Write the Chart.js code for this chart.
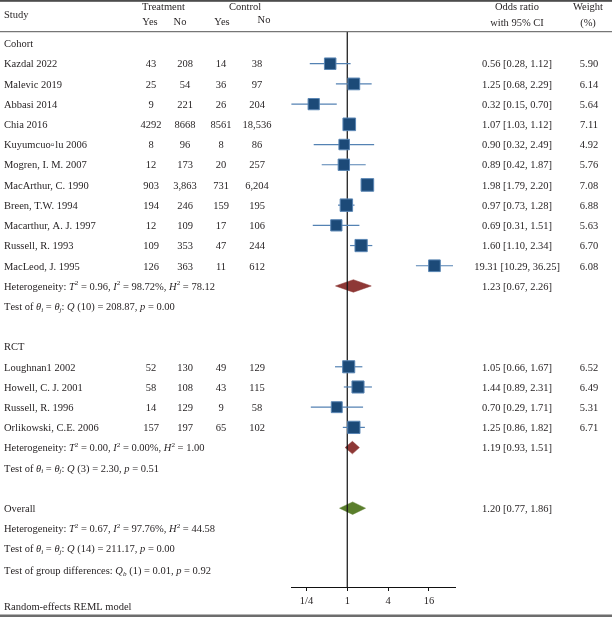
<!DOCTYPE html>
<html>
<head>
<meta charset="utf-8">
<script src="https://cdn.jsdelivr.net/npm/chart.js@4.4.0/dist/chart.umd.min.js"></script>
<style>
  html, body { margin: 0; padding: 0; background: #fff; }
  #wrap { width: 612px; height: 619px; }
</style>
</head>
<body>
<div id="wrap"><canvas id="forest" width="612" height="619"></canvas></div>
<script>
// --- study data ---
const studyNames = [
  "Kazdal 2022", "Malevic 2019", "Abbasi 2014", "Chia 2016", "Kuyumcuo\u25ab\u200alu 2006",
  "Mogren, I. M. 2007", "MacArthur, C. 1990", "Breen, T.W. 1994", "Macarthur, A. J. 1997",
  "Russell, R. 1993", "MacLeod, J. 1995",
  "Loughnan1 2002", "Howell, C. J. 2001", "Russell, R. 1996", "Orlikowski, C.E. 2006"
];
const studyGroup = [
  "Cohort", "Cohort", "Cohort", "Cohort", "Cohort", "Cohort", "Cohort", "Cohort", "Cohort", "Cohort", "Cohort",
  "RCT", "RCT", "RCT", "RCT"
];
const treatYes = ["43", "25", "9", "4292", "8", "12", "903", "194", "12", "109", "126", "52", "58", "14", "157"];
const treatNo  = ["208", "54", "221", "8668", "96", "173", "3,863", "246", "109", "353", "363", "130", "108", "129", "197"];
const ctrlYes  = ["14", "36", "26", "8561", "8", "20", "731", "159", "17", "47", "11", "49", "43", "9", "65"];
const ctrlNo   = ["38", "97", "204", "18,536", "86", "257", "6,204", "195", "106", "244", "612", "129", "115", "58", "102"];
const oddsRatio = [0.56, 1.25, 0.32, 1.07, 0.90, 0.89, 1.98, 0.97, 0.69, 1.60, 19.31, 1.05, 1.44, 0.70, 1.25];
const ciLow     = [0.28, 0.68, 0.15, 1.03, 0.32, 0.42, 1.79, 0.73, 0.31, 1.10, 10.29, 0.66, 0.89, 0.29, 0.86];
const ciHigh    = [1.12, 2.29, 0.70, 1.12, 2.49, 1.87, 2.20, 1.28, 1.51, 2.34, 36.25, 1.67, 2.31, 1.71, 1.82];
const weights   = [5.90, 6.14, 5.64, 7.11, 4.92, 5.76, 7.08, 6.88, 5.63, 6.70, 6.08, 6.52, 6.49, 5.31, 6.71];

// --- subgroup / overall summaries ---
const groups = ["Cohort", "RCT"];
const summaryOR   = { Cohort: 1.23, RCT: 1.19, Overall: 1.20 };
const summaryLow  = { Cohort: 0.67, RCT: 0.93, Overall: 0.77 };
const summaryHigh = { Cohort: 2.26, RCT: 1.51, Overall: 1.86 };
const hetText = {
  Cohort:  "Heterogeneity: *T*^2 = 0.96, *I*^2 = 98.72%, *H*^2 = 78.12",
  RCT:     "Heterogeneity: *T*^2 = 0.00, *I*^2 = 0.00%, *H*^2 = 1.00",
  Overall: "Heterogeneity: *T*^2 = 0.67, *I*^2 = 97.76%, *H*^2 = 44.58"
};
const testText = {
  Cohort:  "Test of *\u03b8_i* = *\u03b8_j*: *Q* (10) = 208.87, *p* = 0.00",
  RCT:     "Test of *\u03b8_i* = *\u03b8_j*: *Q* (3) = 2.30, *p* = 0.51",
  Overall: "Test of *\u03b8_i* = *\u03b8_j*: *Q* (14) = 211.17, *p* = 0.00"
};
const groupDiffText = "Test of group differences: *Q_b* (1) = 0.01, *p* = 0.92";
const modelNote = "Random-effects REML model";

// --- x axis ticks ---
const xTicks = [0.25, 1, 4, 16];
const xTickLabels = ["1/4", "1", "4", "16"];

// --- layout of rows (row index k, one step per line of the table) ---
const rows = [];
let k = 0;
groups.forEach(g => {
  rows.push({ k: k++, type: "head", text: g });
  studyNames.forEach((n, i) => {
    if (studyGroup[i] === g) rows.push({ k: k++, type: "study", i: i });
  });
  rows.push({ k: k++, type: "het", g: g });
  rows.push({ k: k++, type: "test", g: g });
  k++; // blank line
});
rows.push({ k: k++, type: "overall", g: "Overall" });
rows.push({ k: k++, type: "het", g: "Overall", noDiamond: true });
rows.push({ k: k++, type: "test", g: "Overall" });
rows.push({ k: k++, type: "groupdiff" });

const Y_MIN = -0.57, Y_MAX = 26.9;
const FS = 10.5;
const FONT = '"Liberation Serif", "Times New Roman", serif';
const TEXT = "#231f20";

// --- datasets ---
const studyRows = rows.filter(r => r.type === "study");
const datasets = [];

datasets.push({
  type: "scatter",
  label: "studies",
  data: studyRows.map(r => ({ x: oddsRatio[r.i], y: r.k })),
  pointStyle: "rect",
  pointRadius: studyRows.map(r => 3.35 * Math.sqrt(weights[r.i])),
  backgroundColor: "#1c4a78",
  borderColor: "#5a86b4",
  borderWidth: 1,
  order: 0
});

studyRows.forEach(r => {
  datasets.push({
    type: "line",
    data: [{ x: ciLow[r.i], y: r.k }, { x: ciHigh[r.i], y: r.k }],
    borderColor: "#5482b3",
    borderWidth: 1.2,
    pointRadius: 0,
    order: 1
  });
});

// line of no effect
datasets.push({
  type: "line",
  data: [{ x: 1, y: Y_MIN }, { x: 1, y: Y_MAX }],
  borderColor: "#111",
  borderWidth: 1.2,
  pointRadius: 0,
  clip: false,
  order: 2
});

// summary diamonds
const diamondRows = rows.filter(r => (r.type === "het" && !r.noDiamond) || r.type === "overall");
diamondRows.forEach(r => {
  const g = r.g, h = 0.31;
  const col = g === "Overall" ? "#5a7e2c" : "#8e3836";
  datasets.push({
    type: "line",
    data: [
      { x: summaryLow[g], y: r.k }, { x: summaryOR[g], y: r.k - h },
      { x: summaryHigh[g], y: r.k }, { x: summaryOR[g], y: r.k + h },
      { x: summaryLow[g], y: r.k }
    ],
    borderColor: col,
    backgroundColor: col,
    borderWidth: 0.5,
    fill: "shape",
    pointRadius: 0,
    tension: 0,
    order: 3
  });
});

// --- rich text helper: *italic*, ^x superscript, _x subscript ---
function drawRich(ctx, str, x, y) {
  let italic = false;
  for (let i = 0; i < str.length; i++) {
    let c = str[i];
    if (c === "*") { italic = !italic; continue; }
    let size = FS, dy = 0;
    if (c === "^" || c === "_") {
      dy = c === "^" ? -3.5 : 2.5;
      c = str[++i];
      size = FS * 0.68;
    }
    ctx.font = (italic ? "italic " : "") + size + "px " + FONT;
    ctx.fillText(c, x, y + dy);
    x += ctx.measureText(c).width;
  }
}

function txt(ctx, s, x, y, align) {
  ctx.textAlign = align || "left";
  ctx.fillText(s, x, y);
}

const tablePlugin = {
  id: "table",
  afterDraw(chart) {
    const ctx = chart.ctx;
    const ys = chart.scales.y;
    ctx.save();
    // rules
    ctx.fillStyle = "#4d4d4d";
    ctx.fillRect(0, 0, 612, 1.8);
    ctx.fillStyle = "#555";
    ctx.fillRect(0, 31.2, 612, 1);
    ctx.fillStyle = "#6d6d6d";
    ctx.fillRect(0, 614.5, 612, 2.5);

    ctx.fillStyle = TEXT;
    ctx.textBaseline = "middle";
    ctx.font = FS + "px " + FONT;
    // header
    txt(ctx, "Study", 4, 15);
    txt(ctx, "Treatment", 163.5, 7.5, "center");
    txt(ctx, "Control", 245, 7.5, "center");
    txt(ctx, "Yes", 150, 22.5, "center");
    txt(ctx, "No", 180, 22.5, "center");
    txt(ctx, "Yes", 222, 22.5, "center");
    txt(ctx, "No", 264, 20.5, "center");
    txt(ctx, "Odds ratio", 517, 7.5, "center");
    txt(ctx, "with 95% CI", 517, 23, "center");
    txt(ctx, "Weight", 588, 7.5, "center");
    txt(ctx, "(%)", 588, 23, "center");

    rows.forEach(r => {
      const y = ys.getPixelForValue(r.k) + 1;
      ctx.font = FS + "px " + FONT;
      ctx.textAlign = "left";
      if (r.type === "head") {
        txt(ctx, r.text, 4, y);
      } else if (r.type === "overall") {
        txt(ctx, "Overall", 4, y);
        txt(ctx, summaryOR[r.g].toFixed(2) + " [" + summaryLow[r.g].toFixed(2) + ", " + summaryHigh[r.g].toFixed(2) + "]", 517, y, "center");
      } else if (r.type === "study") {
        const i = r.i;
        txt(ctx, studyNames[i], 4, y);
        txt(ctx, treatYes[i], 151, y, "center");
        txt(ctx, treatNo[i], 185, y, "center");
        txt(ctx, ctrlYes[i], 221, y, "center");
        txt(ctx, ctrlNo[i], 257, y, "center");
        txt(ctx, oddsRatio[i].toFixed(2) + " [" + ciLow[i].toFixed(2) + ", " + ciHigh[i].toFixed(2) + "]", 517, y, "center");
        txt(ctx, weights[i].toFixed(2), 589, y, "center");
      } else if (r.type === "het") {
        ctx.textAlign = "left";
        drawRich(ctx, hetText[r.g], 4, y);
        if (!r.noDiamond) {
          ctx.font = FS + "px " + FONT;
          txt(ctx, summaryOR[r.g].toFixed(2) + " [" + summaryLow[r.g].toFixed(2) + ", " + summaryHigh[r.g].toFixed(2) + "]", 517, y, "center");
        }
      } else if (r.type === "test") {
        ctx.textAlign = "left";
        drawRich(ctx, testText[r.g], 4, y);
      } else if (r.type === "groupdiff") {
        ctx.textAlign = "left";
        drawRich(ctx, groupDiffText, 4, y + 1.5);
      }
    });

    ctx.font = FS + "px " + FONT;
    txt(ctx, modelNote, 4, 607);
    ctx.restore();
  }
};

new Chart(document.getElementById("forest").getContext("2d"), {
  type: "scatter",
  data: { datasets: datasets },
  options: {
    responsive: false,
    animation: false,
    events: [],
    layout: { padding: { left: 291, right: 157, top: 32, bottom: 12 } },
    plugins: { legend: { display: false }, tooltip: { enabled: false } },
    scales: {
      x: {
        type: "logarithmic",
        position: "bottom",
        min: 0.148,
        max: 38.8,
        afterBuildTicks: s => { s.ticks = xTicks.map(v => ({ value: v })); },
        afterFit: s => { s.height = 20; },
        ticks: {
          autoSkip: false,
          maxRotation: 0,
          padding: 4,
          color: TEXT,
          font: { family: "Liberation Serif", size: FS },
          callback: v => xTickLabels[xTicks.indexOf(v)]
        },
        grid: { drawOnChartArea: false, drawTicks: true, tickLength: 4, color: "#111" },
        border: { display: true, color: "#111", width: 1 }
      },
      y: {
        type: "linear",
        reverse: true,
        min: Y_MIN,
        max: Y_MAX,
        display: false
      }
    }
  },
  plugins: [tablePlugin]
});
</script>
</body>
</html>
